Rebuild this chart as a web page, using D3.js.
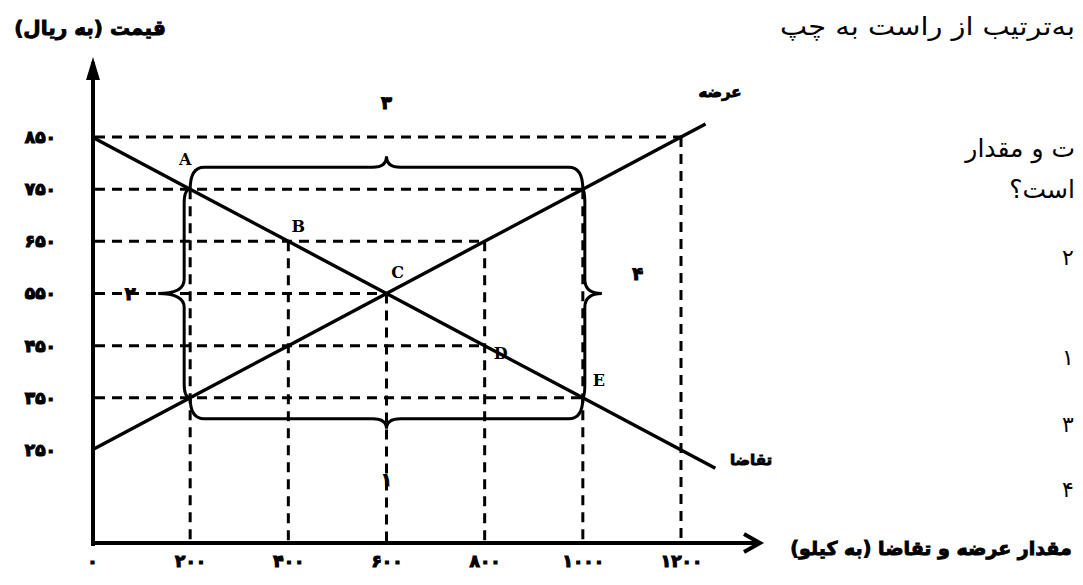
<!DOCTYPE html>
<html>
<head>
<meta charset="utf-8">
<script src="https://cdnjs.cloudflare.com/ajax/libs/d3/7.8.5/d3.min.js"></script>
<style>
  body { margin: 0; background: #fff; }
  svg { display: block; }
</style>
</head>
<body>
<svg id="chart" width="1083" height="585"></svg>
<script>
// quantity (kg) on the bottom axis, price (rial) on the left axis
const qTicks = [0, 200, 400, 600, 800, 1000, 1200];
const pTicks = [250, 350, 450, 550, 650, 750, 850];

const demandQ = [0, 200, 400, 600, 800, 1000, 1270];
const demandP = [850, 750, 650, 550, 450, 350, 215];
const supplyQ = [0, 200, 400, 600, 800, 1000, 1200, 1250];
const supplyP = [250, 350, 450, 550, 650, 750, 850, 875];

const pointNames = ['A', 'B', 'C', 'D', 'E'];
const pointQ = [200, 400, 600, 800, 1000];
const pointP = [750, 650, 550, 450, 350];

// dashed guides: horizontal ones run from the price axis out to hGuideQ,
// vertical ones run from vGuideP down to the quantity axis
const hGuideP = [850, 750, 650, 550, 450, 350];
const hGuideQ = [1200, 1000, 800, 600, 800, 1000];
const vGuideQ = [200, 400, 600, 800, 1000, 1200];
const vGuideP = [750, 650, 550, 650, 750, 850];

const braceLabels = ['۳', '۱', '۲', '۴'];
const braceFromQ = [200, 200, 200, 1000];
const braceFromP = [750, 350, 750, 750];
const braceToQ = [1000, 1000, 200, 1000];
const braceToP = [750, 350, 350, 350];

const optionLabels = ['۲', '۱', '۳', '۴'];

const fa = v => String(v).replace(/\d/g, d => '۰۱۲۳۴۵۶۷۸۹'[d]);

let svg = d3.select('#chart');
let axisY = 543, axisX = 93;

let x = d3.scaleLinear().domain([0, 1200]).range([92, 681]);
let y = d3.scaleLinear().domain([250, 850]).range([450, 137]);

// dashed guides
svg.append('g')
  .selectAll('line.h')
  .data(hGuideP)
  .enter().append('line')
  .attr('x1', axisX + 2)
  .attr('x2', (d, i) => x(hGuideQ[i]))
  .attr('y1', d => y(d))
  .attr('y2', d => y(d))
  .attr('stroke', '#000')
  .attr('stroke-width', 3)
  .attr('stroke-dasharray', '10,7');

svg.append('g')
  .selectAll('line.v')
  .data(vGuideQ)
  .enter().append('line')
  .attr('x1', d => x(d))
  .attr('x2', d => x(d))
  .attr('y1', (d, i) => y(vGuideP[i]))
  .attr('y2', axisY)
  .attr('stroke', '#000')
  .attr('stroke-width', 3)
  .attr('stroke-dasharray', '10,7');

// supply and demand lines
let line = d3.line().x(d => x(d[0])).y(d => y(d[1]));

svg.append('path')
  .attr('d', line(demandQ.map((q, i) => [q, demandP[i]])))
  .attr('fill', 'none')
  .attr('stroke', '#000')
  .attr('stroke-width', 3.4);

svg.append('path')
  .attr('d', line(supplyQ.map((q, i) => [q, supplyP[i]])))
  .attr('fill', 'none')
  .attr('stroke', '#000')
  .attr('stroke-width', 3.4);

// curly braces
function bracePath(p1, p2, n, w, h) {
  let len = Math.hypot(p2[0] - p1[0], p2[1] - p1[1]);
  let t = [(p2[0] - p1[0]) / len, (p2[1] - p1[1]) / len];
  let r = 14;
  let at = (b, s, k) => [b[0] + t[0] * s + n[0] * k, b[1] + t[1] * s + n[1] * k];
  let m = [(p1[0] + p2[0]) / 2, (p1[1] + p2[1]) / 2];
  return 'M' + p1 +
    ' Q' + at(p1, 0, w) + ' ' + at(p1, r, w) +
    ' L' + at(m, -r, w) +
    ' Q' + at(m, 0, w) + ' ' + at(m, 0, w + h) +
    ' Q' + at(m, 0, w) + ' ' + at(m, r, w) +
    ' L' + at(p2, -r, w) +
    ' Q' + at(p2, 0, w) + ' ' + p2;
}

let braceStyle = [
  { n: [0, -1], w: 22, h: 11, off: [0, -80] },
  { n: [0, 1], w: 21, h: 10, off: [0, 88] },
  { n: [-1, 0], w: 6, h: 26, off: [-60, 6] },
  { n: [1, 0], w: 2, h: 17, off: [55, -14] }
];

braceLabels.forEach(function(lab, i) {
  let p1 = [x(braceFromQ[i]), y(braceFromP[i])];
  let p2 = [x(braceToQ[i]), y(braceToP[i])];
  let s = braceStyle[i];
  svg.append('path')
    .attr('d', bracePath(p1, p2, s.n, s.w, s.h))
    .attr('fill', 'none')
    .attr('stroke', '#000')
    .attr('stroke-width', 3);
  svg.append('text')
    .attr('x', (p1[0] + p2[0]) / 2 + s.off[0])
    .attr('y', (p1[1] + p2[1]) / 2 + s.off[1])
    .attr('text-anchor', 'middle')
    .attr('font-family', 'DejaVu Sans')
    .attr('font-weight', 'bold')
    .attr('font-size', 18)
    .attr('stroke', '#000')
    .attr('stroke-width', 1)
    .text(lab);
});

// point labels
let pointOffset = { A: [-5, -24], B: [10, -9], C: [11, -16], D: [16, 13], E: [16, -12] };
svg.append('g')
  .selectAll('text')
  .data(pointNames)
  .enter().append('text')
  .attr('x', (d, i) => x(pointQ[i]) + pointOffset[d][0])
  .attr('y', (d, i) => y(pointP[i]) + pointOffset[d][1])
  .attr('text-anchor', 'middle')
  .attr('font-family', 'DejaVu Serif')
  .attr('font-weight', 'bold')
  .attr('font-size', 16)
  .text(d => d);

// axes
let xAxis = svg.append('g')
  .attr('transform', 'translate(0,' + axisY + ')')
  .call(d3.axisBottom(x).tickValues(qTicks).tickSize(0).tickPadding(12).tickFormat(fa));
xAxis.select('.domain').remove();

let yAxis = svg.append('g')
  .attr('transform', 'translate(' + axisX + ',0)')
  .call(d3.axisLeft(y).tickValues(pTicks).tickSize(0).tickPadding(37).tickFormat(fa));
yAxis.select('.domain').remove();

svg.selectAll('.tick text')
  .attr('font-family', 'DejaVu Sans')
  .attr('font-weight', 'bold')
  .attr('font-size', 17)
  .attr('stroke', '#000')
  .attr('stroke-width', 1.2)
  .attr('fill', '#000');

// axis lines with arrows
svg.append('line')
  .attr('x1', axisX).attr('x2', axisX)
  .attr('y1', axisY + 3).attr('y2', 62)
  .attr('stroke', '#000').attr('stroke-width', 4);
svg.append('path')
  .attr('d', 'M' + (axisX - 7) + ',80 L' + axisX + ',57 L' + (axisX + 7) + ',80 Z')
  .attr('fill', '#000');

svg.append('line')
  .attr('x1', axisX - 2).attr('x2', 756)
  .attr('y1', axisY).attr('y2', axisY)
  .attr('stroke', '#000').attr('stroke-width', 4);
svg.append('path')
  .attr('d', 'M744,534 L760,' + axisY + ' L744,552')
  .attr('fill', 'none')
  .attr('stroke', '#000').attr('stroke-width', 4);

// titles
function faText(tx, ty, str, size, weight, anchor) {
  let t = svg.append('text')
    .attr('x', tx).attr('y', ty)
    .attr('direction', 'rtl')
    .attr('text-anchor', anchor || 'middle')
    .attr('font-family', 'DejaVu Sans')
    .attr('font-weight', weight)
    .attr('font-size', size)
    .text(str);
  if (weight === 'bold') t.attr('stroke', '#000').attr('stroke-width', 0.9);
  return t;
}

faText(90, 35, 'قیمت (به ریال)', 20, 'bold');
faText(931, 555, 'مقدار عرضه و تقاضا (به کیلو)', 19, 'bold');
faText(720, 97, 'عرضه', 15, 'bold');
faText(751, 465, 'تقاضا', 15, 'bold');

// question text at the right
faText(1075, 35, 'به‌ترتیب از راست به چپ', 25, 'normal', 'start')
  .attr('textLength', 295).attr('lengthAdjust', 'spacingAndGlyphs');
faText(1075, 157, 'ت و مقدار', 25, 'normal', 'start');
faText(1075, 198, 'است؟', 25, 'normal', 'start');
let optionY = [265, 365, 432, 497];
optionLabels.forEach(function(lab, i) {
  faText(1068, optionY[i], lab, 22, 'normal');
});
</script>
</body>
</html>
